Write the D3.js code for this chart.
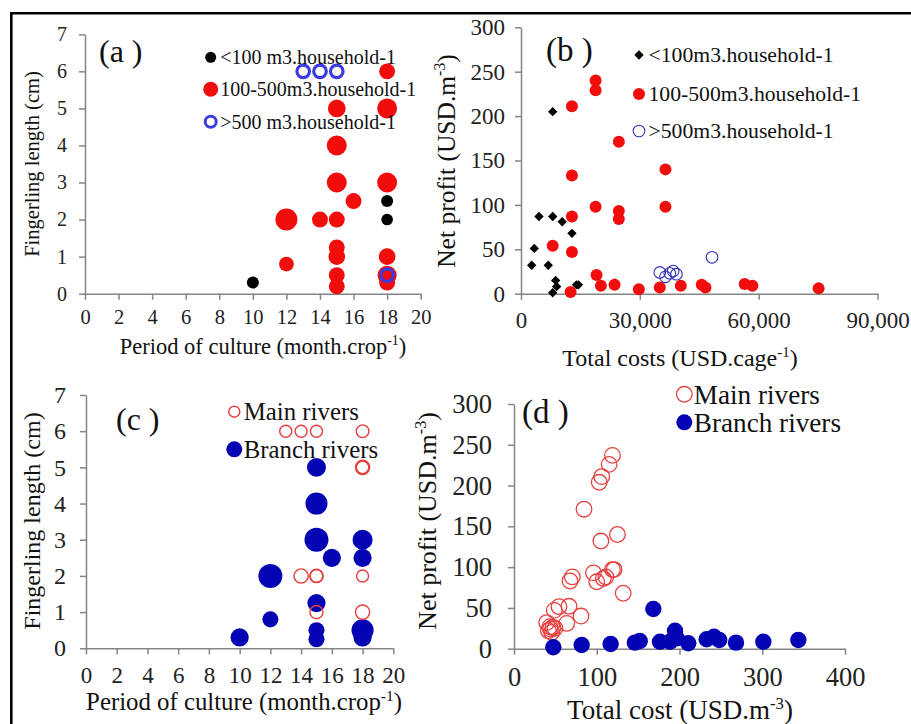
<!DOCTYPE html>
<meta charset="utf-8">
<style>
body { margin: 0; background: #fff; }
svg { background: #fff; }
svg text { font-family: 'Liberation Serif', 'Times New Roman', serif; }
.axis path, .axis line { stroke: #858585; stroke-width: 1.5px; }
.axis text { fill: #222; }
</style>
<body>
<div id="chart"></div>
<script src="https://d3js.org/d3.v7.min.js"></script>
<script>
// (a) fingerling length vs period of culture, grouped by cage volume
var aLowPeriod = [10, 18, 18];
var aLowLength = [0.3, 2.5, 2];
var aLowCount = [1.2, 1.2, 1.1];
var aMidPeriod = [18, 15, 18, 15, 15, 18, 16, 12, 14, 15, 15, 15, 12, 18, 15, 15, 18, 18];
var aMidLength = [6, 5, 5, 4, 3, 3, 2.5, 2, 2, 2, 1.25, 1, 0.8, 1, 0.5, 0.2, 0.3, 0.5];
var aMidCount = [2.1, 2.6, 3.3, 3.3, 3.3, 3.3, 2.1, 4, 2.1, 2.1, 2.1, 2.3, 1.8, 2.3, 2.1, 2.1, 2.1, 3];
var aHighPeriod = [13, 14, 15, 18];
var aHighLength = [6, 6, 6, 0.5];

// (b) net profit vs total costs per cage
var bLowCost = [2700, 3350, 4540, 8000, 8000, 10400, 12860, 6880, 8750, 9000, 8000, 14000, 14500, 19900, 23700];
var bLowProfit = [32, 51, 87, 87, 205, 81, 68, 32, 15, 8, 1, 10, 10, 9, 12];
var bMidCost = [12860, 12860, 12860, 12860, 12520, 8000, 18830, 18830, 18830, 19080, 20170, 24700, 24700, 24700,
                23620, 29750, 36470, 36470, 35040, 40340, 45630, 46560, 56470, 58410, 75130];
var bMidProfit = [211, 133, 87, 47, 2, 54, 240, 229, 98, 21, 9, 171, 93, 84, 10, 5, 140, 98, 7, 9, 10, 7, 11, 9, 6];
var bHighCost = [35040, 36470, 37560, 38400, 39240, 48230];
var bHighProfit = [24, 19, 23, 25.5, 22, 41];

// (c) fingerling length vs period of culture, by river type
var cMainPeriod = [13, 14, 15, 18, 18, 18, 18, 14, 15, 15, 18, 15, 18];
var cMainLength = [6, 6, 6, 6, 5, 5, 5, 2, 2, 2, 2, 1, 1];
var cMainCount = [1, 1, 1, 1.1, 1.1, 1.25, 1.4, 1.4, 1.1, 1.25, 1, 1.2, 1.4];
var cBranchPeriod = [15, 15, 15, 16, 18, 18, 12, 15, 12, 10, 15, 15, 18, 18];
var cBranchLength = [5, 4, 3, 2.5, 3, 2.5, 2, 1.25, 0.8, 0.3, 0.5, 0.25, 0.5, 0.3];
var cBranchCount = [2.5, 3.4, 4, 2.3, 2.8, 2.3, 4, 2.3, 1.8, 2.3, 1.8, 1.8, 3.4, 2.3];

// (d) net profit vs total cost per m3, by river type
var dMainCost = [84.6, 103, 106, 115, 119, 105, 125, 96, 100, 108, 111, 119, 121, 67.7, 70.5, 132,
                 66.5, 54.4, 48.7, 81, 63.7, 39.5, 43.5, 41.5, 49.5, 45.5, 44, 47];
var dMainProfit = [171, 204, 211, 226, 237, 132, 140, 93, 82, 86, 88, 97, 97, 83, 88, 68,
                   52, 51.5, 47, 40, 31, 32, 27, 22, 25, 20, 24, 26];
var dBranchCost = [47.5, 81.8, 116.8, 146, 152, 168.4, 176.4, 188.5, 194.6, 196.6, 210.6, 232.8, 241.7, 248, 268.3, 301.3, 343.6];
var dBranchProfit = [1.7, 4.5, 5.7, 7.4, 9.4, 48.7, 8.6, 8.6, 22, 12.7, 6.6, 11.5, 14.7, 10.7, 7.4, 8.6, 10.7];

var periodTicks = d3.range(0, 21, 2);
var lengthTicks = d3.range(0, 8, 1);
var costTicks = [0, 30000, 60000, 90000];
var profitTicks = d3.range(0, 301, 50);
var costM3Ticks = [0, 100, 200, 300, 400];

var SERIF = "'Liberation Serif', 'Times New Roman', serif";
var RED = "#f20d0d", BLUE_RING = "#3b3be0", NAVY = "#0404b4", PINK = "#e5403f";

var svg = d3.select("#chart").append("svg")
    .attr("width", 911)
    .attr("height", 724);

// outer frame (top and left edges only visible)
svg.append("line").attr("x1", 10).attr("x2", 911).attr("y1", 13.3).attr("y2", 13.3)
    .attr("stroke", "#000").attr("stroke-width", 2.6);
svg.append("line").attr("x1", 11.3).attr("x2", 11.3).attr("y1", 12).attr("y2", 724)
    .attr("stroke", "#000").attr("stroke-width", 2.6);

function zip(xs, ys, ns) {
    return xs.map(function(v, i) { return { x: v, y: ys[i], n: ns ? ns[i] : 1 }; });
}

function addLabel(x, y, rotate, size, parts) {
    var t = svg.append("text")
        .attr("font-size", size)
        .style("font-family", SERIF)
        .attr("text-anchor", "middle")
        .attr("fill", "#111")
        .attr("transform", "translate(" + x + "," + y + ")" + (rotate ? " rotate(-90)" : ""));
    var wasSup = false;
    parts.forEach(function(p) {
        var s = t.append("tspan").text(p[0]);
        if (p[1]) {
            s.attr("font-size", size * 0.62).attr("dy", -size * 0.38);
            wasSup = true;
        } else if (wasSup) {
            s.attr("dy", size * 0.38);
            wasSup = false;
        }
    });
}

function makePanel(cfg) {
    var x = d3.scaleLinear().domain(cfg.xDomain).range(cfg.xRange);
    var y = d3.scaleLinear().domain(cfg.yDomain).range(cfg.yRange);
    svg.append("g")
        .attr("class", "axis")
        .attr("transform", "translate(0," + cfg.yRange[0] + ")")
        .call(d3.axisBottom(x).tickValues(cfg.xTicks).tickSizeInner(6).tickSizeOuter(0)
            .tickPadding(cfg.xPad).tickFormat(cfg.xFormat || d3.format("d")))
        .attr("font-size", cfg.xFont)
        .style("font-family", SERIF);
    svg.append("g")
        .attr("class", "axis")
        .attr("transform", "translate(" + cfg.xRange[0] + ",0)")
        .call(d3.axisLeft(y).tickValues(cfg.yTicks).tickSizeInner(6).tickSizeOuter(0)
            .tickPadding(cfg.yPad).tickFormat(d3.format("d")))
        .attr("font-size", cfg.yFont)
        .style("font-family", SERIF);
    svg.append("text")
        .attr("x", cfg.tag[0]).attr("y", cfg.tag[1])
        .attr("font-size", cfg.tag[2])
        .style("font-family", SERIF)
        .attr("fill", "#111")
        .text(cfg.tag[3]);
    return { x: x, y: y, g: svg.append("g") };
}

function circles(p, data, r, fill, stroke, sw) {
    p.g.selectAll(null)
        .data(data)
        .enter().append("circle")
        .attr("cx", function(d) { return p.x(d.x); })
        .attr("cy", function(d) { return p.y(d.y); })
        .attr("r", typeof r === "function" ? function(d) { return r(d.n); } : r)
        .attr("fill", fill)
        .attr("stroke", stroke || "none")
        .attr("stroke-width", sw || 0);
}

function legendRow(sym, x, y, text, size) {
    sym(svg, x, y);
    svg.append("text").attr("x", x + 9.5).attr("y", y + size * 0.34)
        .attr("font-size", size).style("font-family", SERIF).attr("fill", "#111").text(text);
}

// ---------- (a) ----------
var pa = makePanel({
    xDomain: [0, 20], xRange: [85, 420.7], yDomain: [0, 7], yRange: [293.7, 34.3],
    xTicks: periodTicks, yTicks: lengthTicks, xPad: 10, yPad: 12, xFont: 20.5, yFont: 20,
    tag: [99, 62, 32, "(a )"]
});
var rA = d3.scaleSqrt().domain([0, 4]).range([0, 11]);
circles(pa, zip(aMidPeriod, aMidLength, aMidCount), rA, RED);
circles(pa, zip(aLowPeriod, aLowLength, aLowCount), rA, "#000");
circles(pa, zip(aHighPeriod, aHighLength), 6.3, "none", BLUE_RING, 3.2);
legendRow(function(s, x, y) { s.append("circle").attr("cx", x).attr("cy", y).attr("r", 5.5).attr("fill", "#000"); },
    210.7, 57.3, "<100 m3.household-1", 20);
legendRow(function(s, x, y) { s.append("circle").attr("cx", x).attr("cy", y).attr("r", 7.5).attr("fill", RED); },
    210.7, 89.3, "100-500m3.household-1", 20);
legendRow(function(s, x, y) { s.append("circle").attr("cx", x).attr("cy", y).attr("r", 5.5).attr("fill", "none").attr("stroke", BLUE_RING).attr("stroke-width", 3); },
    210.7, 121.7, ">500 m3.household-1", 20);
addLabel(263, 354, false, 22.5, [["Period of culture (month.crop"], ["-1", true], [")"]]);
addLabel(39, 164, true, 20.5, [["Fingerling  length (cm)"]]);

// ---------- (b) ----------
var pb = makePanel({
    xDomain: [0, 90000], xRange: [521, 877.5], yDomain: [0, 300], yRange: [293.7, 27.3],
    xTicks: costTicks, yTicks: profitTicks, xPad: 12, yPad: 10, xFont: 23, yFont: 23,
    xFormat: d3.format(","),
    tag: [546, 61, 33, "(b )"]
});
var diamond = d3.symbol().type(d3.symbolSquare).size(44);
pb.g.selectAll(null)
    .data(zip(bLowCost, bLowProfit))
    .enter().append("path")
    .attr("d", diamond)
    .attr("fill", "#000")
    .attr("transform", function(d) { return "translate(" + pb.x(d.x) + "," + pb.y(d.y) + ") rotate(45)"; });
circles(pb, zip(bMidCost, bMidProfit), 6, RED);
circles(pb, zip(bHighCost, bHighProfit), 5.8, "none", "#3232b8", 1.1);
legendRow(function(s, x, y) { s.append("path").attr("d", diamond).attr("fill", "#000").attr("transform", "translate(" + x + "," + y + ") rotate(45)"); },
    639, 55, "<100m3.household-1", 21.7);
legendRow(function(s, x, y) { s.append("circle").attr("cx", x).attr("cy", y).attr("r", 6).attr("fill", RED); },
    639, 94, "100-500m3.household-1", 21.7);
legendRow(function(s, x, y) { s.append("circle").attr("cx", x).attr("cy", y).attr("r", 5.8).attr("fill", "none").attr("stroke", "#3232b8").attr("stroke-width", 1.1); },
    639, 131, ">500m3.household-1", 21.7);
addLabel(680, 366, false, 24, [["Total costs (USD.cage"], ["-1", true], [")"]]);
addLabel(455, 161, true, 25.5, [["Net profit (USD.m"], ["-3", true], [")"]]);

// ---------- (c) ----------
var pc = makePanel({
    xDomain: [0, 20], xRange: [86, 393.3], yDomain: [0, 7], yRange: [648.3, 395],
    xTicks: periodTicks, yTicks: lengthTicks, xPad: 12, yPad: 14, xFont: 23, yFont: 24,
    tag: [116, 430, 32, "(c )"]
});
var rC = d3.scaleSqrt().domain([0, 4]).range([0, 12]);
circles(pc, zip(cBranchPeriod, cBranchLength, cBranchCount), rC, NAVY);
circles(pc, zip(cMainPeriod, cMainLength, cMainCount), rC, "none", PINK, 1.4);
legendRow(function(s, x, y) { s.append("circle").attr("cx", x).attr("cy", y).attr("r", 5.5).attr("fill", "none").attr("stroke", PINK).attr("stroke-width", 1.4); },
    234.3, 411.7, "Main rivers", 24.8);
legendRow(function(s, x, y) { s.append("circle").attr("cx", x).attr("cy", y).attr("r", 8).attr("fill", NAVY); },
    234.3, 449.3, "Branch rivers", 24.8);
addLabel(244, 710, false, 24.8, [["Period of culture (month.crop"], ["-1", true], [")"]]);
addLabel(40, 521, true, 24, [["Fingerling  length (cm)"]]);

// ---------- (d) ----------
var pd = makePanel({
    xDomain: [0, 400], xRange: [514, 845], yDomain: [0, 300], yRange: [648.7, 404],
    xTicks: costM3Ticks, yTicks: profitTicks, xPad: 12, yPad: 16, xFont: 26.5, yFont: 26.5,
    tag: [522, 423, 33, "(d )"]
});
circles(pd, zip(dMainCost, dMainProfit), 7.8, "none", PINK, 1.3);
circles(pd, zip(dBranchCost, dBranchProfit), 8.2, NAVY);
legendRow(function(s, x, y) { s.append("circle").attr("cx", x).attr("cy", y).attr("r", 7.8).attr("fill", "none").attr("stroke", PINK).attr("stroke-width", 1.3); },
    684.3, 394.3, "Main rivers", 27.2);
legendRow(function(s, x, y) { s.append("circle").attr("cx", x).attr("cy", y).attr("r", 8).attr("fill", NAVY); },
    684.3, 422.3, "Branch rivers", 27.2);
addLabel(680, 719, false, 27, [["Total cost (USD.m"], ["-3", true], [")"]]);
addLabel(436, 521, true, 26, [["Net profit (USD.m"], ["-3", true], [")"]]);
</script>
